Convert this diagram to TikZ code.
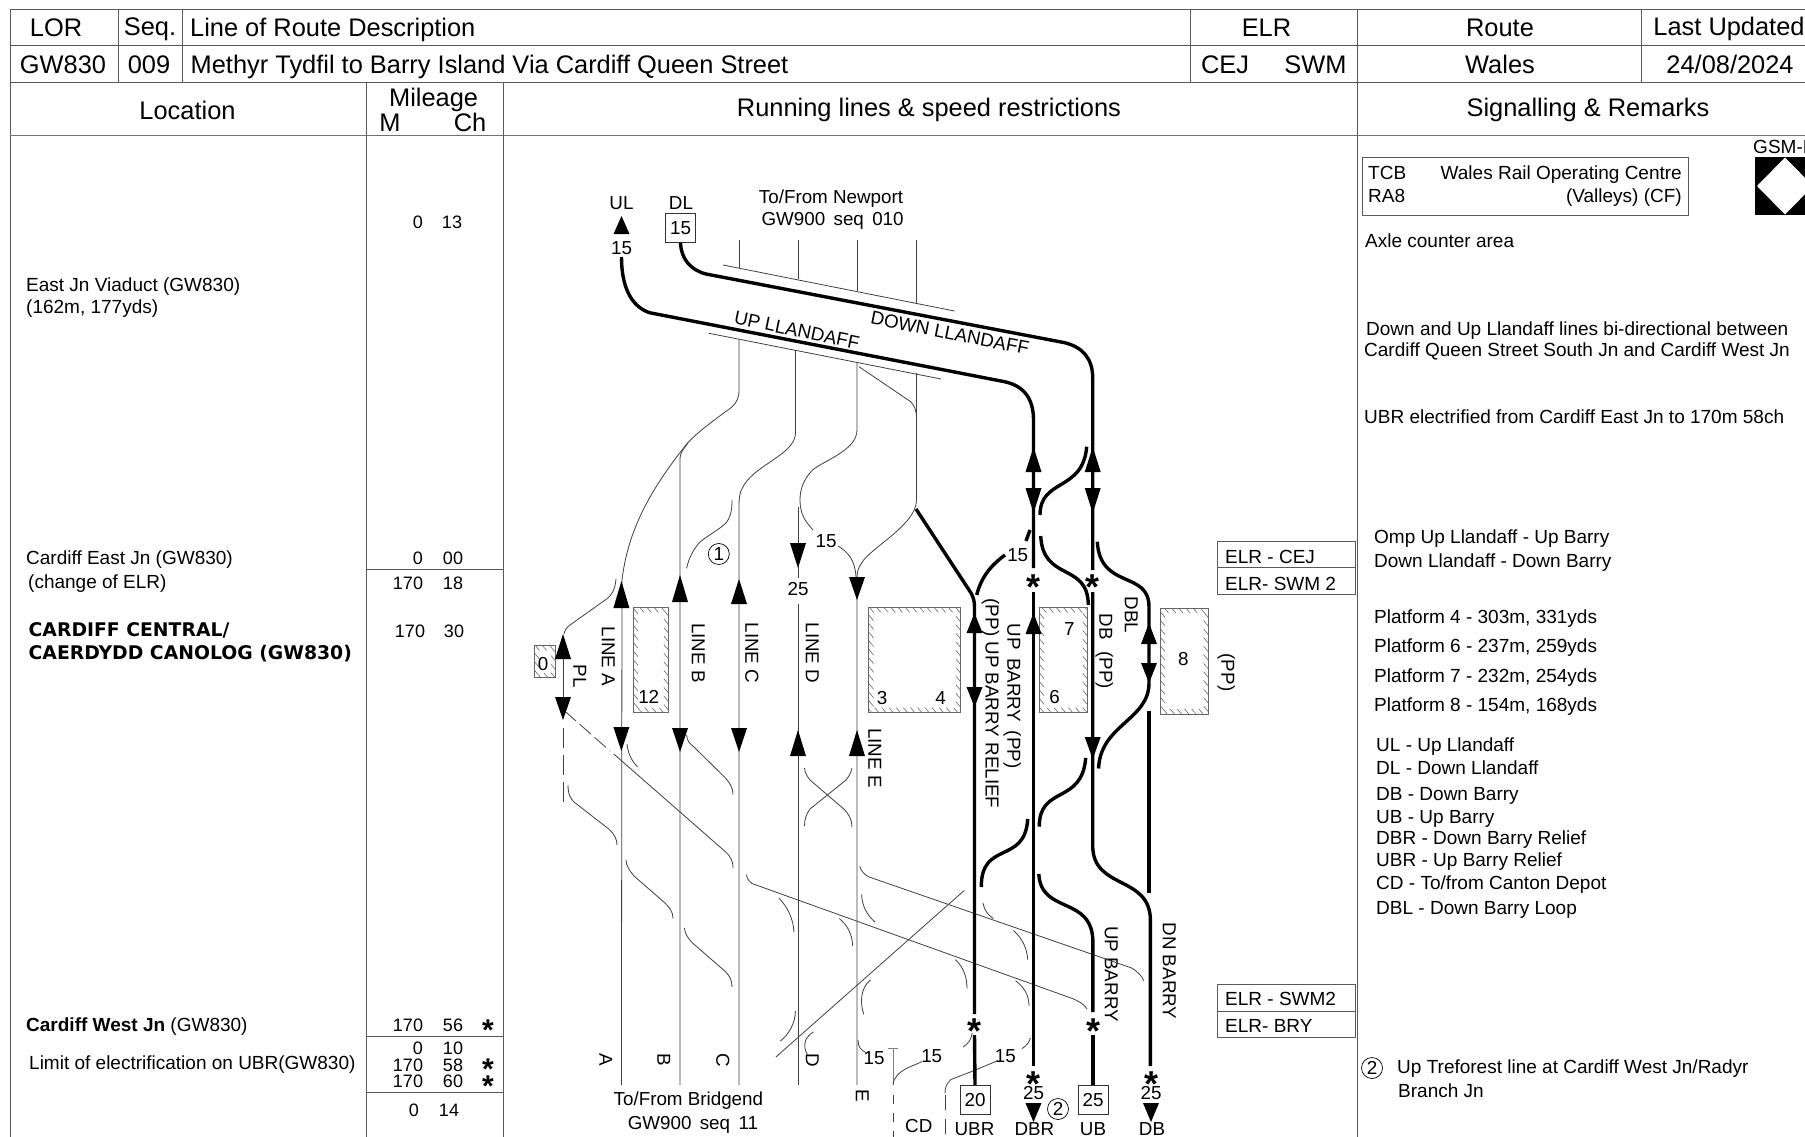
\documentclass[tikz,border=0pt]{standalone}
\usepackage{fontspec}
\setmainfont{Liberation Sans}
\newfontfamily\blackfont{DejaVu Sans}
\usetikzlibrary{arrows.meta,positioning,patterns.meta}
\newcommand{\platformbox}[4]{
\path[even odd rule,pattern={Lines[angle=-50,distance=5.5pt,line width=.6pt]},pattern color=black!60] (#1,#2) rectangle (#3,#4) (#1+4.8,#2+4.8) rectangle (#3-4.8,#4-4.8);
\draw[line width=.9pt,black!60] (#1,#2) rectangle (#3,#4);
}
\begin{document}
\begin{tikzpicture}[x=1pt,y=-1pt,
rule/.style={line width=.9pt,black!65},
tr/.style={line width=.8pt,black!75},
trk/.style={line width=3.4pt},
big/.style={font=\fontsize{25.4}{25.4}\selectfont,inner sep=0pt,text height=19pt,text depth=0pt},
rem/.style={font=\fontsize{19}{19}\selectfont,inner sep=0pt,text height=13.7pt,text depth=0pt,anchor=west},
lab/.style={font=\fontsize{18.8}{18.8}\selectfont,inner sep=0pt,text height=13.5pt,text depth=0pt},
num/.style={font=\fontsize{18}{18}\selectfont,inner sep=0pt,text height=13pt,text depth=0pt},
vlab/.style={lab,rotate=-90},
starmark/.style={font=\fontsize{36}{36}\bfseries\selectfont,inner sep=0pt,yshift=-7.5pt},
milestar/.style={font=\fontsize{30}{30}\bfseries\selectfont,inner sep=0pt,yshift=-5pt},
speedbox/.style={draw,line width=.9pt,black!80,text=black,lab,minimum width=30pt,minimum height=29pt,text height=13.5pt},
ring/.style={circle,draw,line width=.7pt,minimum size=21pt,lab,text height=13.5pt}]
\path[fill=white,use as bounding box] (0,0) rectangle (1805,1137);
\draw[rule] (10,1137) -- (10,9.5) -- (1805,9.5) (10,45.5) -- (1805,45.5) (10,82) -- (1805,82);
\draw[line width=1.3pt,black!55] (10,135.7) -- (1805,135.7);
\draw[rule] (118,9.5) -- (118,82) (182,9.5) -- (182,82) (1190,9.5) -- (1190,82) (1641,9.5) -- (1641,82);
\draw[rule] (366,82) -- (366,1137) (503,82) -- (503,1137) (1357.5,9.5) -- (1357.5,1137);
\draw[rule] (366,569) -- (503,569) (366,1036.5) -- (503,1036.5) (366,1092) -- (503,1092);
\node[big] (lor) at (56,27) {LOR};
\node[big] (seq) at (150,26) {Seq.};
\node[big,anchor=west] (desc) at (190,27) {Line of Route Description};
\node[big] (elr) at (1266.5,27) {ELR};
\node[big] (route) at (1500,27) {Route};
\node[big] (updated) at (1729,26) {Last Updated};
\node[big] (lorval) at (63,64) {GW830};
\node[big] (seqval) at (149,64) {009};
\node[big,anchor=west] (descval) at (190.5,64) {Methyr Tydfil to Barry Island Via Cardiff Queen Street};
\node[big] (cej) at (1225,64) {CEJ};
\node[big] (swm) at (1315.5,64) {SWM};
\node[big] (wales) at (1500,64) {Wales};
\node[big] (date) at (1730,64) {24/08/2024};
\node[big] (location) at (187.5,110) {Location};
\node[big] (mileage) at (433.6,97) {Mileage};
\node[big] (miles) at (390,122) {M};
\node[big] (chains) at (470,122) {Ch};
\node[big] (running) at (929,107) {Running lines \& speed restrictions};
\node[big] (signalling) at (1588,107) {Signalling \& Remarks};
\node[rem] (viaduct) at (26,285) {East Jn Viaduct (GW830)};
\node[rem] (viaductlen) at (26,307) {(162m, 177yds)};
\node[rem] (eastjn) at (26,558) {Cardiff East Jn (GW830)};
\node[rem] (changeelr) at (28,582) {(change of ELR)};
\node[rem,font=\fontsize{18.8}{18.8}\blackfont\bfseries\selectfont] (central) at (28.5,630) {CARDIFF CENTRAL/};
\node[rem,font=\fontsize{18.8}{18.8}\blackfont\bfseries\selectfont] (canolog) at (28.5,653) {CAERDYDD CANOLOG (GW830)};
\node[rem] (westjn) at (26,1025) {\textbf{Cardiff West Jn} (GW830)};
\node[rem] (limit) at (29,1062.5) {Limit of electrification on UBR(GW830)};
\foreach \i/\m/\c/\xm/\xc/\y in {a/0/13/418/452/222,b/0/00/418/453/558,c/170/18/408/453/583,d/170/30/410/454/631,e/170/56/408/453/1025,f/0/10/418/453/1048,g/170/58/408/453/1064.5,h/170/60/408/453/1081,k/0/14/414/449/1110}{
\node[num] (m\i) at (\xm,\y) {\m};
\node[num] (c\i) at (\xc,\y) {\c};
}
\foreach \i/\y in {a/1025,b/1064.5,c/1081}
\node[milestar] (mstar\i) at (488,\y) {*};
\draw[rule] (1362.5,157) rectangle (1688.5,215);
\node[rem] (tcb) at (1368,173) {TCB};
\node[rem] (ra) at (1368,196) {RA8};
\node[rem,anchor=east] (roc) at (1682,173) {Wales Rail Operating Centre};
\node[rem,anchor=east] (cf) at (1682,196) {(Valleys) (CF)};
\node[rem] (gsm) at (1753,147) {GSM-R};
\fill (1755,157) rectangle (1805,215);
\fill[white] (1785,157.5) -- (1813,186) -- (1785,214.5) -- (1757,186) -- cycle;
\foreach \i/\t/\x/\y in {a/Axle counter area/1365/241,b/Down and Up Llandaff lines bi-directional between/1366/329,c/Cardiff Queen Street South Jn and Cardiff West Jn/1364/350,d/UBR electrified from Cardiff East Jn to 170m 58ch/1364/417,e/Omp Up Llandaff - Up Barry/1374/537,f/Down Llandaff - Down Barry/1374/561,g/Platform 4 - 303m{,} 331yds/1374/617,h/Platform 6 - 237m{,} 259yds/1374/646,k/Platform 7 - 232m{,} 254yds/1374/676,l/Platform 8 - 154m{,} 168yds/1374/705,m/UL - Up Llandaff/1376/745,n/DL - Down Llandaff/1376/768,o/DB - Down Barry/1376/794,p/UB - Up Barry/1376/816.5,q/DBR - Down Barry Relief/1376/838,r/UBR - Up Barry Relief/1376/860,s/{CD - To/from Canton Depot}/1376/883,t/DBL - Down Barry Loop/1376/908,u/{Up Treforest line at Cardiff West Jn/Radyr}/1397/1067,v/Branch Jn/1398/1091}
\node[rem] (remark\i) at (\x,\y) {\t};
\node[ring] (note2) at (1372,1068) {2};
\draw[rule] (1217.5,541.7) rectangle (1355,594.7) (1217.5,567) -- (1355,567);
\draw[rule] (1217.5,984) rectangle (1355,1037) (1217.5,1011) -- (1355,1011);
\node[rem] (elrcej) at (1225,557) {ELR - CEJ};
\node[rem] (elrswm) at (1225,584) {ELR- SWM 2};
\node[rem] (elrswmb) at (1225,999) {ELR - SWM2};
\node[rem] (elrbry) at (1225,1026) {ELR- BRY};
\platformbox{534.4}{645.5}{555.8}{677.7}
\platformbox{633}{607.5}{668.7}{712.3}
\platformbox{868.8}{607.5}{960.7}{712.3}
\platformbox{1039.3}{607.7}{1087.7}{712.3}
\platformbox{1160}{608.3}{1208.3}{714}
\foreach \i/\t/\x/\y in {a/0/543/664,b/12/648.7/697,c/3/882/697.6,d/4/940.6/697.6,e/7/1069.3/628.3,f/6/1054.7/697,g/8/1183.3/658.3}
\node[lab] (plat\i) at (\x,\y) {\t};
\node[lab] (ul) at (621.5,202.7) {UL};
\node[lab] (dl) at (681,202.7) {DL};
\node[speedbox] (dlbox) at (680.5,228) {15};
\node[lab] (ulspeed) at (621.5,248) {15};
\node[lab] (newport) at (831,196.7) {To/From Newport};
\node[lab] (gwnew) at (832.6,219) {GW900\, seq\, 010};
\node[lab] (bridgend) at (688.4,1099) {To/From Bridgend};
\node[lab] (gwbri) at (692.9,1123) {GW900\, seq\, 11};
\node[lab,rotate=-11.2] (dnll) at (950,332.7) {DOWN LLANDAFF};
\node[lab,rotate=-11.8] (upll) at (797,330) {UP LLANDAFF};
\foreach \i/\t/\x/\y in {a/PL/580/676,b/LINE A/608.5/656.5,c/LINE B/698.7/653,d/LINE C/752/653,e/LINE D/812.5/653,f/LINE E/875/758,g/(PP) UP BARRY RELIEF/992.4/703.5,h/UP\, BARRY\, (PP)/1014/696,k/DB\, \,(PP)/1106/651.5,l/DBL/1131.7/615,m/(PP)/1228/672.5,n/UP BARRY/1111.6/974,o/DN BARRY/1169.6/971,p/A/606/1059.6,q/B/664/1059.6,r/C/723/1060.6,s/D/812.5/1060.6,t/E/862.5/1095.6}
\node[vlab] (rot\i) at (\x,\y) {\t};
\foreach \i/\t/\x/\y in {a/15/826/541,b/25/798/589,c/15/1017.7/554.3,d/15/874/1058,e/15/931.7/1055.5,f/15/1005.4/1055.5,g/25/1033.5/1093,h/25/1151/1093,k/CD/918.8/1126,l/UBR/974.5/1129,m/DBR/1034.4/1129,n/UB/1093/1129,o/DB/1152/1129}
\node[lab] (tag\i) at (\x,\y) {\t};
\node[ring] (note1a) at (718.8,554) {1};
\node[ring] (note2a) at (1058,1109) {2};
\node[speedbox] (box20) at (975,1100) {20};
\node[speedbox] (box25) at (1093,1100) {25};
\foreach \i/\x/\y in {a/1033.5/580,b/1092.7/580,c/974.5/1024,d/1093/1024,e/1033.5/1077,f/1151/1077}
\node[starmark] (star\i) at (\x,\y) {*};
\draw[tr] (739,240) -- (739,268) (798,240) -- (798,279) (857,240) -- (857,291) (916.5,240) -- (916.5,303);
\draw[tr] (723,265) -- (954.5,311) (709,333.3) -- (941,379);
\draw[tr] (739,340) -- (739,390) .. controls (739,405) and (730,408) .. (721,415) .. controls (708,425) and (698,432) .. (687.5,443) .. controls (650,490) and (628,530) .. (622,580) -- (621.4,1085);
\draw[tr] (688,443) .. controls (683,450) and (680,452) .. (680,460) -- (680,1085);
\draw[tr] (795.5,350) -- (795.5,433) .. controls (795.5,452) and (762,463) .. (747.8,480) .. controls (742,487) and (739,492) .. (739,505) -- (739,1085);
\draw[tr] (732,500) .. controls (732,512) and (730,518) .. (726,523) .. controls (716,532) and (705,537) .. (698.7,543.3) .. controls (692,552) and (689,558) .. (686.6,568.3);
\draw[tr] (857,363) -- (857,430) .. controls (857,450) and (825,460) .. (812.5,470) .. controls (803,480) and (800,490) .. (800,500) .. controls (800,515) and (806,522) .. (813,530);
\draw[tr] (838,546) .. controls (848,552) and (855,560) .. (856,577);
\draw[tr] (798,507) -- (798,545) (798,566) -- (798,578) (798,604) -- (798,1085);
\draw[tr] (859,366.7) -- (910.7,401.7) .. controls (914,405) and (916.5,410) .. (916.5,418);
\draw[tr] (916.5,373) -- (916.5,500) .. controls (916.5,525) and (870,548) .. (861.6,563) .. controls (858,568) and (857,572) .. (857,580) -- (857,1085);
\draw[tr] (616,579) .. controls (615,590) and (612,594) .. (608,598) -- (570,625) .. controls (566,628) and (565,630) .. (564,634);
\draw[tr] (563,655) -- (563,700);
\draw[tr,dash pattern=on 15pt off 5pt] (564.7,711) -- (610,751);
\draw[tr,dash pattern=on 20pt off 7pt] (563,728) -- (563,802);
\draw[tr] (613.8,754) -- (725.4,851.7) .. controls (730,856) and (733,860) .. (733,868);
\draw[tr] (627,744) .. controls (628,753) and (631,760) .. (637.5,767);
\draw[tr] (568,785) .. controls (568,795) and (571,799) .. (574,802) -- (609.4,829.5) .. controls (614,834) and (617,839) .. (617,845);
\draw[tr] (686.6,735) .. controls (687,741) and (690,744) .. (694,747) -- (725.4,778) .. controls (730,783) and (733,788) .. (733,794.5);
\draw[tr] (626,860) .. controls (626,866) and (630,871) .. (634,876) -- (665,903) .. controls (670,908) and (673,912) .. (673,918.5);
\draw[tr] (684.4,928) .. controls (685,934) and (688,938) .. (692,942.5) -- (725.4,971.6) .. controls (730,976) and (732,981) .. (732,987);
\draw[tr] (804.5,768) .. controls (805,773) and (807,776) .. (810,780) -- (843.8,809) .. controls (849,814) and (852,820) .. (852,827);
\draw[tr] (852,768) .. controls (851,773) and (849,776) .. (846,780) -- (810,809) .. controls (806,814) and (804.5,820) .. (804.5,826);
\draw[tr] (746.4,874.7) .. controls (747,879) and (749,881) .. (752.2,883.6) -- (1073.7,999) .. controls (1080,1002) and (1085,1005) .. (1087,1009);
\draw[tr] (859.8,866.4) .. controls (861,871) and (864,874) .. (868.3,876.7) -- (1131.7,968) .. controls (1138,972) and (1142,976) .. (1143.8,980.8);
\draw[tr] (964.3,890.4) -- (775.9,1057);
\draw[tr] (779,898) .. controls (788,908) and (793,918) .. (794,932);
\draw[tr] (839.3,918.5) .. controls (848,926) and (852,934) .. (852.7,946);
\draw[tr] (861.6,894.5) .. controls (862,906) and (867,915) .. (875,922);
\draw[tr] (983,903) .. controls (984,910) and (988,915) .. (993.3,918.5);
\draw[tr] (1013.4,930.5) .. controls (1022,938) and (1027,948) .. (1027.7,959.6);
\draw[tr] (955.4,959.6) .. controls (963,967) and (967,976) .. (967,988.7);
\draw[tr] (1015.6,980.8) .. controls (1024,987) and (1029,995) .. (1029,1005.8);
\draw[tr] (870.5,980) .. controls (860,988) and (860,1004) .. (863.8,1014.4);
\draw[tr] (795.5,1011) .. controls (795,1024) and (789,1034) .. (780.4,1041);
\draw[tr] (813.4,1032) .. controls (803,1038) and (803,1048) .. (808,1055.5);
\draw[tr] (858,1040) .. controls (858,1047) and (861,1050) .. (866,1052.7);
\draw[tr,black!50] (888,1048.6) -- (898,1048.6) (893,1048.6) -- (893,1084.6);
\draw[tr] (972.3,1033) .. controls (971,1040) and (968,1044) .. (963,1047) (922,1061.6) -- (908.5,1067.5) .. controls (899,1072) and (894,1077) .. (893,1084.6);
\draw[tr,dash pattern=on 9pt off 9pt] (893,1095) -- (893,1137);
\draw[tr] (1030.4,1038) .. controls (1029,1043) and (1026,1046) .. (1022,1048.6) (997.8,1060.6) -- (973,1071) -- (951,1079.5) .. controls (947,1083) and (945,1087) .. (945,1093);
\draw[tr,dash pattern=on 15pt off 9pt] (945,1095) -- (945,1137);
\draw[trk] (621.5,257) .. controls (621.5,285) and (630,306) .. (649.5,312.7) -- (1004.5,381.7) .. controls (1025,386) and (1033.5,400) .. (1033.5,420) -- (1033.5,568);
\draw[trk] (1033.5,592) -- (1033.5,1066);
\draw[trk] (dlbox.south) .. controls (681,258) and (690,270) .. (706,274) -- (1064.7,342.7) .. controls (1082,347) and (1092.7,358) .. (1092.7,378) -- (1092.7,570);
\draw[trk] (1092.7,592) -- (1092.7,846) .. controls (1093,890) and (1150,875) .. (1150.4,920) -- (1150.4,1066);
\draw[trk] (916,509) -- (971,593) .. controls (973,597) and (974.5,600) .. (974.5,607) -- (974.5,1014);
\draw[trk] (974.5,1035) -- (box20.north);
\draw[trk] (1093,1035) -- (box25.north);
\draw[trk] (1086.7,446.7) .. controls (1083,492) and (1040,478) .. (1040,515);
\draw[trk] (1030,530) -- (1026,541);
\draw[trk] (1005,555) .. controls (990,566) and (981,578) .. (976.7,595);
\draw[trk] (1040.7,536) .. controls (1043,582) and (1088,562) .. (1088.3,605);
\draw[trk] (1097.3,541.7) .. controls (1100,590) and (1149,570) .. (1149,606.7) -- (1149,683) .. controls (1149,720) and (1100,725) .. (1098.6,768.5);
\draw[trk] (1149,711) -- (1149,893);
\draw[trk] (1085.7,758) .. controls (1082,805) and (1039,785) .. (1039.3,826.7);
\draw[trk] (1027.7,819) .. controls (1025,865) and (981,840) .. (981.3,887);
\draw[trk] (1038.8,874) .. controls (1041,915) and (1093,895) .. (1092.9,942.5) -- (1092.9,1012);
\foreach \x/\a/\b in {621.5/216/234,621.4/581/608,680/575/602,739/579/604,798/568/543,857/600/577,621.4/751/727,680/752/728,739/752/728,798/730/756,857/730/756,563/634/659,563/720/697,974.5/613/633,974.5/707/687,1033.5/447/472,1033.5/513/488,1092.7/447/472,1092.7/513/488,1033.5/613/634,1149/623/644,1149/683/663,1092.7/759/737,1033.5/1122/1103,1151/1122/1103}
\fill (\x,\a) -- (\x-8,\b) -- (\x+8,\b) -- cycle;
\end{tikzpicture}
\end{document}
